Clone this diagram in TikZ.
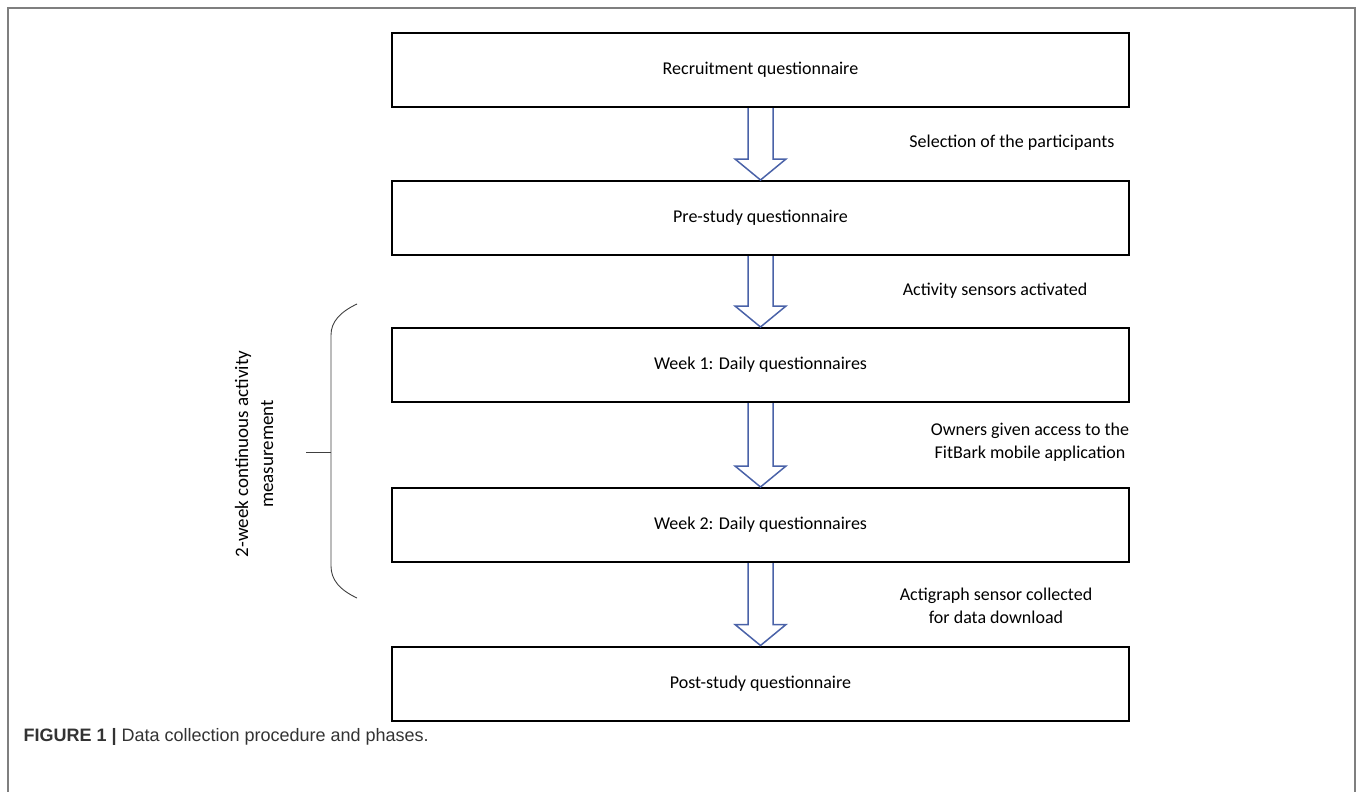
\documentclass[tikz,border=0pt]{standalone}
\usepackage{fontspec}
\setmainfont{Carlito}
\newfontfamily\capfont{Liberation Sans}
\usetikzlibrary{positioning, calc}

\definecolor{arrowblue}{HTML}{4A62A8}
\definecolor{framegray}{HTML}{7F7F7F}

\tikzset{
	phase/.style={draw, line width=2pt, minimum width=737pt, minimum height=74pt,
		font=\fontsize{18}{22}\selectfont},
	note/.style={align=center, font=\fontsize{18}{23.5}\selectfont},
	blockarrow/.style={draw=arrowblue, line width=1.5pt, line join=miter},
}

% hollow block arrow between two phases
\newcommand{\phasearrow}[2]{
	\draw[blockarrow] ($(#1.south)+(-12.5,0)$) -- ($(#2.north)+(-12.5,-21)$)
		-- ($(#2.north)+(-25.5,-21)$) -- (#2.north) -- ($(#2.north)+(25.5,-21)$)
		-- ($(#2.north)+(12.5,-21)$) -- ($(#1.south)+(12.5,0)$);
}

\begin{document}
\begin{tikzpicture}[x=1pt, y=-1pt]
			\useasboundingbox (0,0) rectangle (1357,792);
			\draw[framegray, line width=2pt] (8,792) -- (8,8) -- (1355,8) -- (1355,792);

			\node[phase] (recruit) at (760.5,70) {Recruitment questionnaire};
			\node[phase] (pre) at (760.5,218) {Pre-study questionnaire};
			\node[phase] (week1) at (760.5,365) {Week 1: Daily questionnaires};
			\node[phase] (week2) at (760.5,525) {Week 2: Daily questionnaires};
			\node[phase] (post) at (760.5,683.5) {Post-study questionnaire};

			\phasearrow{recruit}{pre}
			\phasearrow{pre}{week1}
			\phasearrow{week1}{week2}
			\phasearrow{week2}{post}

			\node[note] (select) at (1012,143) {Selection of the participants};
			\node[note] (sensors) at (995,291) {Activity sensors activated};
			\node[note] (access) at (1030,442) {Owners given access to the\\FitBark mobile application};
			\node[note] (collect) at (996,606) {Actigraph sensor collected\\for data download};

			% brace for the two measured weeks
			\coordinate (btop) at (357,304);
			\coordinate (bbot) at (357,598);
			\coordinate (bmid) at (331,452);
			\draw[black!75, line width=0.9pt] (btop) .. controls (340,312) and (331,322) .. (331,335)
				-- (331,566) .. controls (331,580) and (340,590) .. (bbot);
			\draw[black!75, line width=0.9pt] (bmid) -- ++(-25,0);
			\node[note, rotate=90, font=\fontsize{19}{25}\selectfont] (span) at (254,454) {2-week continuous activity\\measurement};

			\node[anchor=west, text=black!80, font=\capfont\fontsize{18}{20}\selectfont] (caption) at (20,737)
				{\textbf{FIGURE 1 |} Data collection procedure and phases.};
		\end{tikzpicture}
\end{document}
